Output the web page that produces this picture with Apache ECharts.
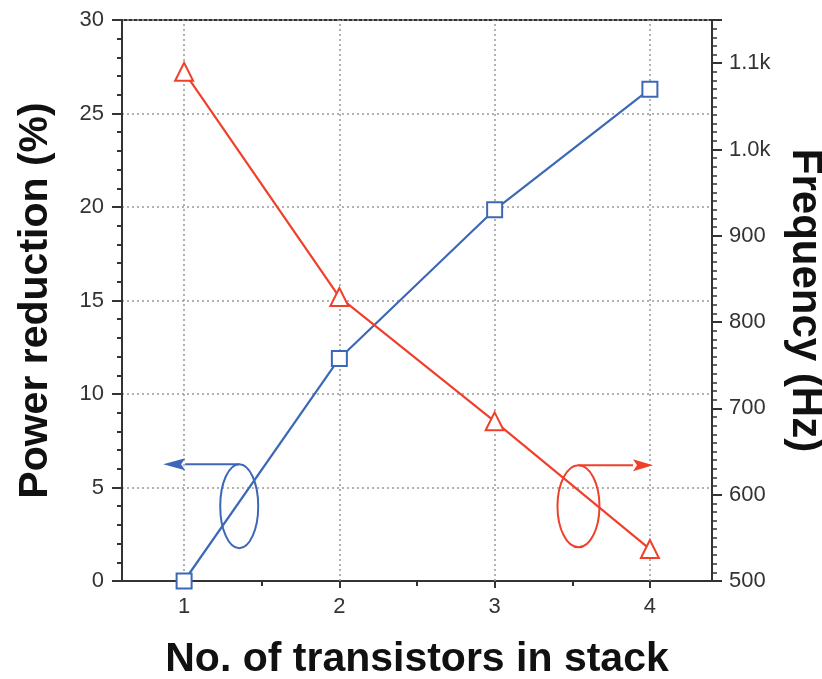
<!DOCTYPE html>
<html><head><meta charset="utf-8">
<script src="https://cdn.jsdelivr.net/npm/echarts@6/dist/echarts.min.js"></script>
<style>html,body{margin:0;padding:0;background:#fff}#c{width:822px;height:679px}</style>
</head><body><div id="c"></div>
<script>
var stackSizes = [1, 2, 3, 4];
var powerReduction = [0, 11.9, 19.85, 26.3];
var frequency = [1090, 829, 685, 537];
var xMajorTicks = [1, 2, 3, 4];
var xMinorTicks = [1.5, 2.5, 3.5];
// annotation anchors in data coords: [x, yLeft, arrowTipX]
var blueNote = [1.355, 4.0, 0.865];
var redNote = [3.54, 4.0, 4.02];

var BLUE = '#3d68b7', RED = '#f0402c', AX = '#333';
var FONT = '"Liberation Sans", Arial, Helvetica, sans-serif';

var chart = echarts.init(document.getElementById('c'));
var gridLines = xMajorTicks.map(function (v) { return { xAxis: v }; });

chart.setOption({
  animation: false,
  grid: { left: 122, right: 110, top: 20, bottom: 98, containLabel: false, outerBoundsMode: 'none',
    show: true, borderColor: AX, borderWidth: 2, backgroundColor: 'transparent' },
  xAxis: [{
    type: 'value', min: 0.6, max: 4.4, position: 'bottom',
    name: 'No. of transistors in stack', nameLocation: 'middle', nameGap: 58,
    nameTextStyle: { fontFamily: FONT, fontWeight: 'bold', fontSize: 41, color: '#111' },
    axisLine: { show: true, onZero: false, lineStyle: { color: AX, width: 2 } },
    axisTick: { show: true, customValues: xMajorTicks, length: 7, lineStyle: { color: AX, width: 2 } },
    axisLabel: { customValues: xMajorTicks, fontFamily: FONT, fontSize: 22, color: '#333', margin: 15 },
    splitLine: { show: false }
  }, {
    type: 'value', min: 0.6, max: 4.4, position: 'bottom', gridIndex: 0,
    axisLine: { show: false },
    axisTick: { show: true, customValues: xMinorTicks, length: 5, lineStyle: { color: AX, width: 2 } },
    axisLabel: { show: false },
    splitLine: { show: false }
  }],
  yAxis: [{
    type: 'value', min: 0, max: 30, interval: 5, position: 'left',
    name: 'Power reduction (%)', nameLocation: 'middle', nameGap: 66,
    nameTextStyle: { fontFamily: FONT, fontWeight: 'bold', fontSize: 41, color: '#111' },
    axisLine: { show: true, lineStyle: { color: AX, width: 2 } },
    axisTick: { show: true, length: 10, lineStyle: { color: AX, width: 2 } },
    minorTick: { show: true, splitNumber: 5, length: 5, lineStyle: { color: AX, width: 2 } },
    axisLabel: { fontFamily: FONT, fontSize: 22, color: '#333', margin: 18 },
    splitLine: { show: true, lineStyle: { color: '#999', width: 1.5, type: [2, 3] } }
  }, {
    type: 'value', min: 500, max: 1150, interval: 100, position: 'right',
    name: 'Frequency (Hz)', nameLocation: 'middle', nameGap: 72, nameRotate: -90, nameMoveOverlap: false,
    nameTextStyle: { fontFamily: FONT, fontWeight: 'bold', fontSize: 42, color: '#111' },
    axisLine: { show: true, lineStyle: { color: AX, width: 2 } },
    axisTick: { show: true, length: 10, lineStyle: { color: AX, width: 2 } },
    minorTick: { show: true, splitNumber: 10, length: 5, lineStyle: { color: AX, width: 1.5 } },
    axisLabel: { fontFamily: FONT, fontSize: 22, color: '#333', margin: 17, showMaxLabel: false,
      formatter: function (v) { return v >= 1000 ? (v / 1000).toFixed(1) + 'k' : String(v); } },
    splitLine: { show: false }
  }],
  series: [{
    type: 'line', xAxisIndex: 0, yAxisIndex: 0,
    data: stackSizes.map(function (x, i) { return [x, powerReduction[i]]; }),
    symbol: 'emptyRect', symbolSize: 15,
    lineStyle: { color: BLUE, width: 2.2 },
    itemStyle: { color: BLUE, borderColor: BLUE, borderWidth: 2 },
    z: 5,
    markLine: {
      silent: true, symbol: 'none', label: { show: false },
      lineStyle: { color: '#999', width: 1.5, type: [2, 3] },
      data: gridLines, z: 1
    }
  }, {
    type: 'line', xAxisIndex: 0, yAxisIndex: 1,
    data: stackSizes.map(function (x, i) { return [x, frequency[i]]; }),
    symbol: 'emptyTriangle', symbolSize: 18,
    lineStyle: { color: RED, width: 2.2 },
    itemStyle: { color: RED, borderColor: RED, borderWidth: 2 },
    z: 5
  }]
});

function note(anchor, color, rx, ry, head) {
  var c = chart.convertToPixel({ xAxisIndex: 0, yAxisIndex: 0 }, [anchor[0], anchor[1]]);
  var tip = chart.convertToPixel({ xAxisIndex: 0, yAxisIndex: 0 }, [anchor[2], anchor[1]]);
  var topY = c[1] - ry;
  var dir = tip[0] < c[0] ? -1 : 1;
  return [
    { type: 'ellipse', shape: { cx: c[0], cy: c[1], rx: rx, ry: ry }, style: { fill: 'none', stroke: color, lineWidth: 2 }, z: 10 },
    { type: 'line', shape: { x1: c[0], y1: topY, x2: tip[0] - dir * head, y2: topY }, style: { stroke: color, lineWidth: 2 }, z: 10 },
    { type: 'polygon', shape: { points: [[tip[0], topY], [tip[0] - dir * head, topY - 6], [tip[0] - dir * (head - 4), topY], [tip[0] - dir * head, topY + 6]] }, style: { fill: color }, z: 10 }
  ];
}
chart.setOption({ graphic: note(blueNote, BLUE, 19, 42, 22).concat(note(redNote, RED, 21, 41, 20)) });
</script></body></html>
